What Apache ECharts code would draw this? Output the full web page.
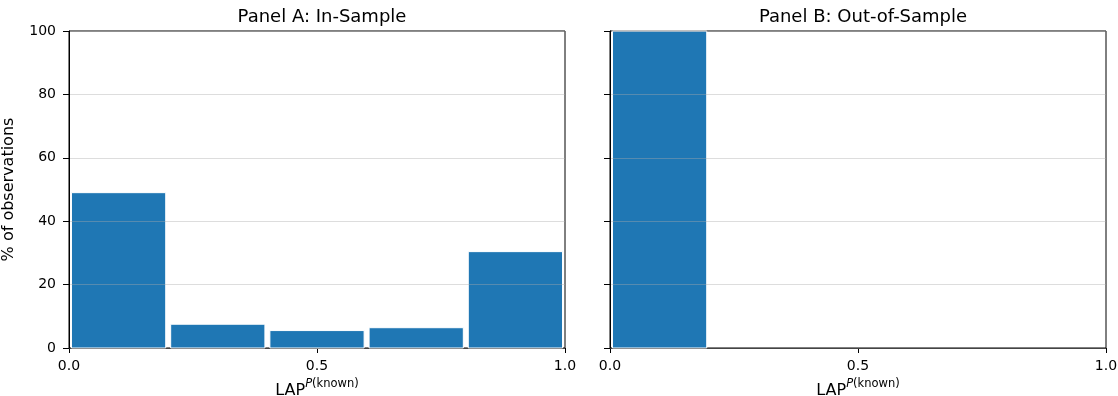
<!DOCTYPE html>
<html><head><meta charset="utf-8">
<script src="https://cdn.jsdelivr.net/npm/echarts@6/dist/echarts.min.js"></script>
<style>html,body{margin:0;padding:0;background:#fff}#c{width:1118px;height:396px}</style>
</head><body><div id="c"></div>
<script>
const binEdges = [0.0, 0.2, 0.4, 0.6, 0.8, 1.0];
const inSample = [49.0, 7.5, 5.5, 6.4, 30.4];
const outSample = [100.0, 0, 0, 0, 0];
const panelTitles = ["Panel A: In-Sample", "Panel B: Out-of-Sample"];
const xTicks = [0.0, 0.5, 1.0];
const yTicks = [0, 20, 40, 60, 80, 100];

const FONT = "DejaVu Sans";
const chart = echarts.init(document.getElementById('c'), null, {renderer: 'canvas'});

function binData(vals) {
  return vals.map((v, i) => [binEdges[i], binEdges[i + 1], v]);
}
function renderBar(params, api) {
  const x0 = api.value(0), x1 = api.value(1), y = api.value(2);
  if (!(y > 0)) return null;
  const w = x1 - x0, pad = w * 0.025;
  const p0 = api.coord([x0 + pad, y]);
  const p1 = api.coord([x1 - pad, 0]);
  return {
    type: 'rect',
    shape: {x: p0[0], y: p0[1], width: p1[0] - p0[0], height: p1[1] - p0[1]},
    style: {fill: '#1f77b4', stroke: '#ffffff', lineWidth: 1}
  };
}
const xName = '{a|LAP}{p|P}{k|(known)}';
const xRich = {
  a: {fontFamily: FONT, fontSize: 16, color: '#000', verticalAlign: 'bottom', lineHeight: 21},
  p: {fontFamily: FONT, fontSize: 11.5, fontStyle: 'italic', color: '#000', verticalAlign: 'top', lineHeight: 13},
  k: {fontFamily: FONT, fontSize: 11.5, color: '#000', verticalAlign: 'top', lineHeight: 13}
};
const grids = [
  {left: 69, top: 31, width: 496, height: 317, show: true, borderColor: '#000', borderWidth: 1, backgroundColor: 'transparent', outerBoundsMode: 'none', containLabel: false},
  {left: 610, top: 31, width: 496, height: 317, show: true, borderColor: '#000', borderWidth: 1, backgroundColor: 'transparent', outerBoundsMode: 'none', containLabel: false}
];
const xAxes = [0, 1].map(i => ({
  type: 'value', gridIndex: i, min: 0, max: 1, interval: 0.5,
  axisLine: {show: true, lineStyle: {color: '#000', width: 1}},
  axisTick: {show: true, length: 5, lineStyle: {color: '#000'}},
  axisLabel: {fontFamily: FONT, fontSize: 14, color: '#000', margin: 11,
    formatter: v => xTicks.some(t => Math.abs(t - v) < 1e-9) ? v.toFixed(1) : ''},
  splitLine: {show: false},
  name: xName, nameLocation: 'middle', nameGap: 30,
  nameTextStyle: {rich: xRich}
}));
const yAxes = [0, 1].map(i => ({
  type: 'value', gridIndex: i, min: yTicks[0], max: yTicks[yTicks.length - 1], interval: 20, z: 5,
  axisLine: {show: true, lineStyle: {color: '#000', width: 1}},
  axisTick: {show: true, length: 6, lineStyle: {color: '#000'}},
  axisLabel: {show: i === 0, fontFamily: FONT, fontSize: 14, color: '#000', margin: 13},
  splitLine: {show: true, lineStyle: {color: 'rgba(170,170,170,0.4)', width: 1}},
  name: i === 0 ? '% of observations' : '', nameLocation: 'middle', nameGap: 52,
  nameTextStyle: {fontFamily: FONT, fontSize: 16, color: '#000'}
}));
chart.setOption({
  animation: false,
  backgroundColor: '#fff',
  title: [
    {text: panelTitles[0], left: 317, top: 3, textAlign: 'center', textStyle: {fontFamily: FONT, fontSize: 18, fontWeight: 'normal', color: '#000'}},
    {text: panelTitles[1], left: 858, top: 3, textAlign: 'center', textStyle: {fontFamily: FONT, fontSize: 18, fontWeight: 'normal', color: '#000'}}
  ],
  grid: grids, xAxis: xAxes, yAxis: yAxes,
  series: [
    {type: 'custom', xAxisIndex: 0, yAxisIndex: 0, renderItem: renderBar, data: binData(inSample), encode: {x: [0, 1], y: 2}, z: 2},
    {type: 'custom', xAxisIndex: 1, yAxisIndex: 1, renderItem: renderBar, data: binData(outSample), encode: {x: [0, 1], y: 2}, z: 2}
  ]
});
</script></body></html>
